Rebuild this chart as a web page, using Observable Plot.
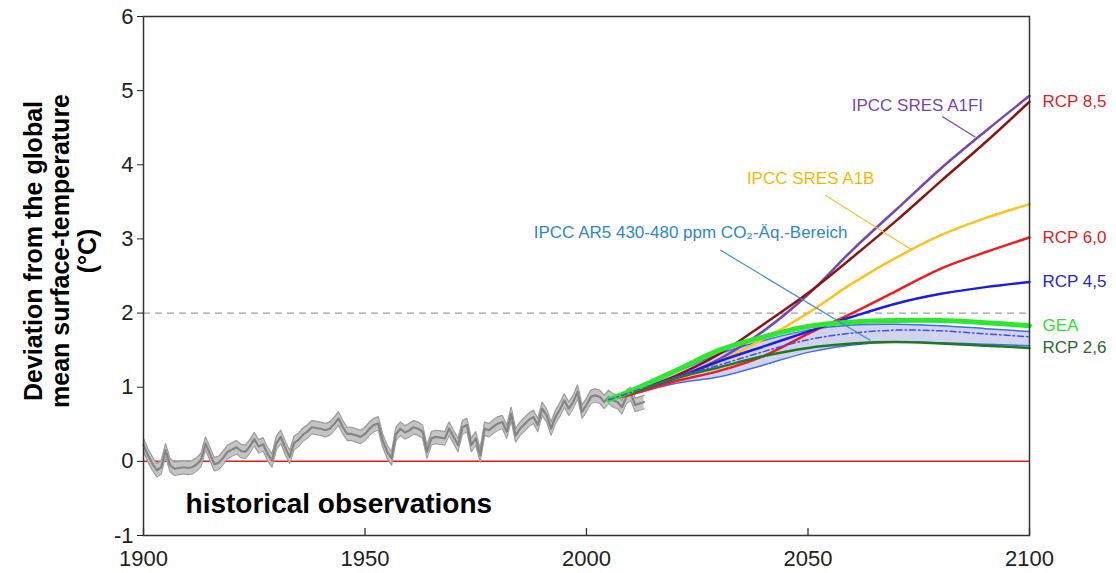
<!DOCTYPE html>
<html>
<head>
<meta charset="utf-8">
<script src="https://cdn.jsdelivr.net/npm/d3@7"></script>
<script src="https://cdn.jsdelivr.net/npm/@observablehq/plot@0.6"></script>
<style>
  html, body { margin: 0; padding: 0; background: #fff; }
  #chart svg { display: block; }
</style>
</head>
<body>
<div id="chart"></div>
<script>
// ---------- data ----------
const histYears = d3.range(1900, 2014);
const histValues = [
  0.22, 0.08, -0.03, -0.12, -0.08, 0.15, -0.05, -0.10, -0.09, -0.08,
  -0.09, -0.08, -0.04, 0.02, 0.24, 0.10, -0.04, -0.02, 0.05, 0.13,
  0.16, 0.19, 0.14, 0.13, 0.20, 0.30, 0.20, 0.23, 0.10, 0.01,
  0.25, 0.33, 0.18, 0.06, 0.25, 0.29, 0.36, 0.40, 0.46, 0.45,
  0.44, 0.42, 0.44, 0.50, 0.58, 0.46, 0.37, 0.37, 0.35, 0.33,
  0.37, 0.44, 0.49, 0.51, 0.28, 0.13, 0.04, 0.37, 0.44, 0.39,
  0.42, 0.46, 0.44, 0.40, 0.13, 0.31, 0.33, 0.32, 0.31, 0.44,
  0.33, 0.22, 0.46, 0.49, 0.22, 0.31, 0.08, 0.44, 0.42, 0.47,
  0.51, 0.53, 0.40, 0.64, 0.35, 0.44, 0.50, 0.56, 0.60, 0.49,
  0.71, 0.62, 0.44, 0.60, 0.70, 0.82, 0.71, 0.80, 0.94, 0.67,
  0.76, 0.87, 0.89, 0.87, 0.80, 0.87, 0.82, 0.80, 0.73, 0.87,
  0.91, 0.76, 0.78, 0.80
];
const histUncertainty = 0.09;

const projYears = [2005, 2010, 2020, 2030, 2040, 2050, 2060, 2070, 2080, 2090, 2100];
const rcp85 = [0.83, 0.93, 1.15, 1.45, 1.85, 2.27, 2.75, 3.25, 3.78, 4.30, 4.85];
const a1fi  = [0.83, 0.92, 1.12, 1.38, 1.76, 2.25, 2.85, 3.40, 3.95, 4.45, 4.93];
const a1b   = [0.83, 0.92, 1.10, 1.35, 1.65, 2.00, 2.40, 2.75, 3.05, 3.28, 3.47];
const rcp60 = [0.83, 0.90, 1.08, 1.22, 1.42, 1.72, 2.00, 2.30, 2.60, 2.82, 3.02];
const rcp45 = [0.83, 0.93, 1.12, 1.35, 1.55, 1.75, 1.95, 2.13, 2.26, 2.35, 2.42];
const gea   = [0.83, 0.95, 1.22, 1.50, 1.68, 1.82, 1.88, 1.90, 1.90, 1.87, 1.83];
const rcp26 = [0.83, 0.92, 1.12, 1.27, 1.42, 1.53, 1.59, 1.61, 1.59, 1.56, 1.53];
const ar5Low  = [0.83, 0.90, 1.05, 1.14, 1.30, 1.47, 1.57, 1.61, 1.60, 1.58, 1.56];
const ar5High = [0.83, 0.96, 1.20, 1.45, 1.63, 1.77, 1.84, 1.85, 1.83, 1.79, 1.75];
const ar5Mid  = [0.83, 0.93, 1.13, 1.30, 1.48, 1.64, 1.73, 1.77, 1.76, 1.72, 1.68];

const xTicks = [1900, 1950, 2000, 2050, 2100];
const yTicks = [-1, 0, 1, 2, 3, 4, 5, 6];

const seriesNames = ["IPCC SRES A1FI", "RCP 8,5", "IPCC SRES A1B", "RCP 6,0", "RCP 4,5", "RCP 2,6", "GEA"];
const seriesValues = [a1fi, rcp85, a1b, rcp60, rcp45, rcp26, gea];
const seriesColors = ["#7446b4", "#8e1414", "#ffc21a", "#f01c1c", "#1c1ce6", "#1e7a1e", "#2ee82e"];
const seriesWidths = [2.5, 2.5, 2.5, 2.5, 2.5, 2.5, 5];

const rightLabels = ["RCP 8,5", "RCP 6,0", "RCP 4,5", "GEA", "RCP 2,6"];
const rightLabelColors = ["#e3201c", "#e3201c", "#2525d8", "#2ee02e", "#2b6a2b"];

// ---------- tables ----------
const hist = histYears.map((year, i) => ({year, v: histValues[i], lo: histValues[i] - histUncertainty, hi: histValues[i] + histUncertainty}));
const proj = seriesNames.flatMap((name, s) => projYears.map((year, i) => ({name, year, v: seriesValues[s][i]})));
const ar5 = projYears.map((year, i) => ({year, lo: ar5Low[i], hi: ar5High[i], mid: ar5Mid[i]}));
const ends = rightLabels.map((name, i) => ({name, color: rightLabelColors[i], v: seriesValues[seriesNames.indexOf(name)].at(-1)}));

const font = "'Liberation Sans', Arial, sans-serif";
const curve = "catmull-rom";

const chart = Plot.plot({
  width: 1116,
  height: 573,
  marginLeft: 143,
  marginRight: 87,
  marginTop: 16,
  marginBottom: 38,
  style: {fontFamily: font, background: "#fff", overflow: "visible"},
  x: {domain: [1900, 2100]},
  y: {domain: [-1, 6]},
  marks: [
    // reference lines
    Plot.ruleY([2], {stroke: "#a0a0a0", strokeWidth: 1.3, strokeDasharray: "7,5"}),
    Plot.ruleY([0], {stroke: "#e41a1a", strokeWidth: 1.5}),
    // historical observations
    Plot.areaY(hist, {x: "year", y1: "lo", y2: "hi", fill: "#c4c4c4"}),
    Plot.lineY(hist, {x: "year", y: "lo", stroke: "#9c9c9c", strokeWidth: 1.2}),
    Plot.lineY(hist, {x: "year", y: "hi", stroke: "#9c9c9c", strokeWidth: 1.2}),
    Plot.lineY(hist, {x: "year", y: "v", stroke: "#858585", strokeWidth: 2.2}),
    // AR5 range
    Plot.areaY(ar5, {x: "year", y1: "lo", y2: "hi", fill: "#d2d3ee", curve}),
    Plot.lineY(ar5, {x: "year", y: "lo", stroke: "#3d6cf2", strokeWidth: 1.5, curve}),
    Plot.lineY(ar5, {x: "year", y: "hi", stroke: "#3d6cf2", strokeWidth: 1.5, curve}),
    // scenario lines
    ...seriesNames.map((name, s) =>
      Plot.lineY(proj.filter(d => d.name === name), {x: "year", y: "v", stroke: seriesColors[s], strokeWidth: seriesWidths[s], curve})
    ),
    Plot.lineY(ar5, {x: "year", y: "mid", stroke: "#3d50e0", strokeWidth: 1.5, strokeDasharray: "6,3,1.5,3", curve}),
    // annotation pointers
    Plot.link([0], {x1: () => 2080.3, y1: () => 4.65, x2: () => 2087.8, y2: () => 4.37, stroke: "#7446b4", strokeWidth: 1.2}),
    Plot.link([0], {x1: () => 2053.9, y1: () => 3.59, x2: () => 2073.5, y2: () => 2.85, stroke: "#f5c02a", strokeWidth: 1.2}),
    Plot.link([0], {x1: () => 2030.2, y1: () => 2.85, x2: () => 2064.1, y2: () => 1.63, stroke: "#3a8fd0", strokeWidth: 1.2}),
    // annotation labels
    Plot.text(["IPCC SRES A1FI"], {x: () => 2074.7, y: () => 4.80, text: d => d, fill: "#7446b4", fontSize: 17}),
    Plot.text(["IPCC SRES A1B"], {x: () => 2050.6, y: () => 3.82, text: d => d, fill: "#f5b800", fontSize: 17}),
    Plot.text(["IPCC AR5 430-480 ppm CO₂-Äq.-Bereich"], {x: () => 2023.5, y: () => 3.09, text: d => d, fill: "#2f86c8", fontSize: 17}),
    Plot.text(["historical observations"], {x: () => 1909.5, y: () => -0.57, text: d => d, textAnchor: "start", fill: "#000", fontSize: 28, fontWeight: "bold"}),
    // right-side labels
    Plot.text(ends, {x: () => 2100, y: "v", text: "name", fill: "color", textAnchor: "start", dx: 13, fontSize: 17}),
    // axes
    Plot.frame({stroke: "#333", strokeWidth: 1.5}),
    Plot.axisY(yTicks, {ticks: yTicks, tickSize: 6, tickPadding: 4, fontSize: 22, color: "#222", label: null, tickFormat: d => String(d)}),
    Plot.axisX(xTicks, {ticks: xTicks, tickSize: 0, tickPadding: 15, fontSize: 22, color: "#222", label: null, tickFormat: d => String(d)}),
    Plot.ruleX(xTicks, {x: d => d, insetTop: 512, stroke: "#333", strokeWidth: 1.3}),
    // y axis title
    Plot.text(["Deviation from the global\nmean surface-temperature\n(°C)"], {
      frameAnchor: "left", text: d => d, rotate: -90, dx: -83, dy: -25, fontSize: 25, fontWeight: "bold",
      fill: "#000", lineHeight: 1.08, textAnchor: "middle", lineAnchor: "middle"
    })
  ]
});
document.getElementById("chart").appendChild(chart);
</script>
</body>
</html>
